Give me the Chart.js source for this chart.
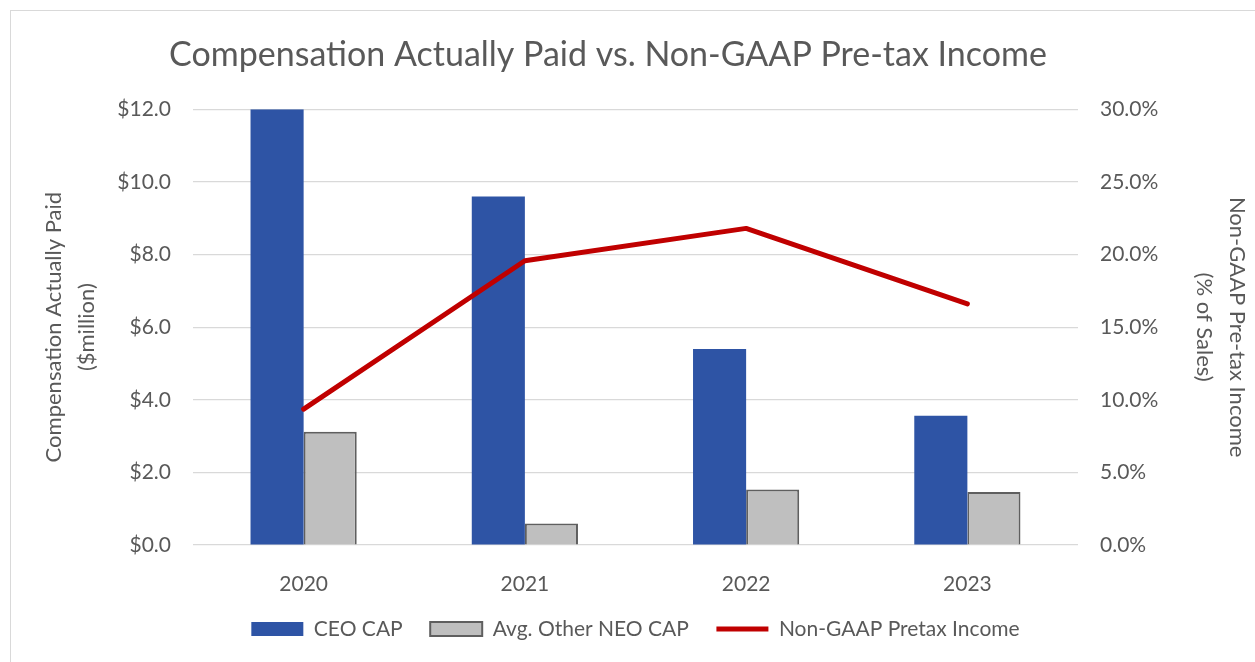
<!DOCTYPE html>
<html>
<head>
<meta charset="utf-8">
<script src="https://cdn.jsdelivr.net/npm/chart.js@4.4.1/dist/chart.umd.min.js"></script>
<style>
  html, body { margin: 0; padding: 0; background: #fff; overflow: hidden; }
  #frame { position: absolute; left: 10px; top: 10px; width: 1300px; height: 700px; border: 1px solid #d9d9d9; }
  #chart { position: absolute; left: 0; top: 0; }
</style>
</head>
<body>
<div id="frame"></div>
<canvas id="chart" width="1255" height="662"></canvas>
<script>
var years = ['2020', '2021', '2022', '2023'];
var ceoCap = [12.0, 9.6, 5.4, 3.56];       // $ million
var neoCap = [3.12, 0.59, 1.53, 1.46];     // $ million
var pretaxIncome = [9.36, 19.57, 21.8, 16.6]; // % of sales

Chart.defaults.font.family = 'Lato';
Chart.defaults.color = '#595959';

var ctx = document.getElementById('chart').getContext('2d');

var chart = new Chart(ctx, {
    type: 'bar',
    data: {
        labels: years,
        datasets: [{
            label: 'CEO CAP',
            data: ceoCap,
            backgroundColor: '#2e54a5',
            borderWidth: 0,
            yAxisID: 'y',
            order: 1
        }, {
            label: 'Avg. Other NEO CAP',
            data: neoCap,
            backgroundColor: '#bfbfbf',
            borderColor: '#5f5f5f',
            borderWidth: 2,
            yAxisID: 'y',
            order: 1
        }, {
            type: 'line',
            label: 'Non-GAAP Pretax Income',
            data: pretaxIncome,
            borderColor: '#c00000',
            backgroundColor: '#c00000',
            borderWidth: 5,
            borderCapStyle: 'round',
            borderJoinStyle: 'round',
            pointRadius: 0,
            tension: 0,
            yAxisID: 'y1',
            order: 0
        }]
    },
    options: {
        responsive: false,
        animation: false,
        devicePixelRatio: 1,
        categoryPercentage: 0.48,
        barPercentage: 1,
        layout: { padding: { left: 0, right: 39, top: 0, bottom: 12.5 } },
        plugins: {
            title: {
                display: true,
                text: 'Compensation Actually Paid vs. Non-GAAP Pre-tax Income',
                color: '#595959',
                font: { size: 34, weight: 'normal' },
                padding: { top: 34.5, bottom: 34 }
            },
            legend: {
                position: 'bottom',
                fullSize: false,
                labels: {
                    usePointStyle: true,
                    pointStyleWidth: 52,
                    boxHeight: 14,
                    padding: 27.5,
                    color: '#595959',
                    font: { size: 21 },
                    sort: function(a, b) { return a.datasetIndex - b.datasetIndex; },
                    generateLabels: function(chart) {
                        var items = Chart.defaults.plugins.legend.labels.generateLabels(chart);
                        items.forEach(function(it) {
                            it.pointStyle = it.datasetIndex === 2 ? 'line' : 'rect';
                        });
                        return items;
                    }
                }
            },
            tooltip: { enabled: false }
        },
        scales: {
            x: {
                grid: { display: false },
                border: { display: false },
                ticks: { padding: 19, font: { size: 21 }, color: '#595959' },
                afterFit: function(scale) { scale.height = 46; }
            },
            y: {
                position: 'left',
                min: 0,
                max: 12,
                ticks: {
                    stepSize: 2,
                    padding: 22,
                    font: { size: 21 },
                    color: '#595959',
                    callback: function(v) { return '$' + v.toFixed(1); }
                },
                grid: { color: '#d9d9d9', lineWidth: 1.2, drawTicks: false },
                border: { display: false },
                title: {
                    display: true,
                    text: ['Compensation Actually Paid', '($million)'],
                    color: '#595959',
                    font: { size: 22, lineHeight: 1.5 },
                    padding: { top: 37.5, bottom: 0 }
                },
                afterFit: function(scale) { scale.width = 193; }
            },
            y1: {
                position: 'right',
                min: 0,
                max: 30,
                ticks: {
                    stepSize: 5,
                    padding: 22,
                    font: { size: 21 },
                    color: '#595959',
                    callback: function(v) { return v.toFixed(1) + '%'; }
                },
                grid: { display: false, drawTicks: false },
                border: { display: false },
                title: {
                    display: true,
                    text: ['Non-GAAP Pre-tax Income', '(% of Sales)'],
                    color: '#595959',
                    font: { size: 22, lineHeight: 1.5 },
                    padding: { top: -37.5, bottom: 0 }
                },
                afterFit: function(scale) { scale.width = 138; }
            }
        }
    }
});
</script>
</body>
</html>
